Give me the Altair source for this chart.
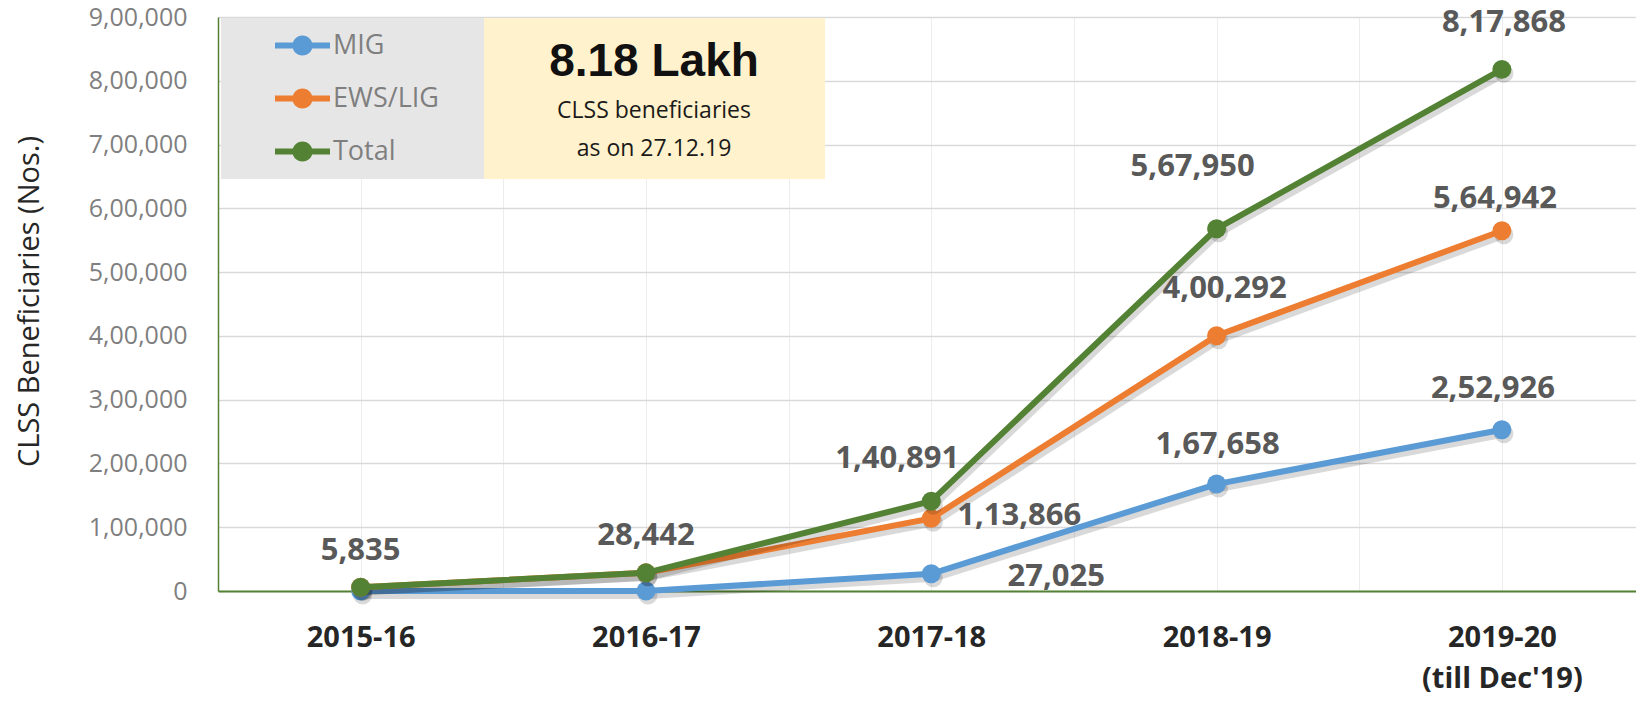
import json
import altair as alt
import pandas as pd

# ---------------- data ----------------
categories = ["2015-16", "2016-17", "2017-18", "2018-19", "2019-20"]
category_notes = ["", "", "", "", "(till Dec'19)"]
series_names = ["MIG", "EWS/LIG", "Total"]
mig = [0, 0, 27025, 167658, 252926]
ews_lig = [5835, 28442, 113866, 400292, 564942]
total = [5835, 28442, 140891, 567950, 817868]
y_ticks = [0, 100000, 200000, 300000, 400000, 500000, 600000, 700000, 800000, 900000]
y_title = "CLSS Beneficiaries (Nos.)"
headline = "8.18 Lakh"
sub_line1 = "CLSS beneficiaries"
sub_line2 = "as on 27.12.19"

# which points carry a data label (series, category index)
labelled = [("Total", 0), ("Total", 1), ("Total", 2), ("Total", 3), ("Total", 4),
            ("EWS/LIG", 2), ("EWS/LIG", 3), ("EWS/LIG", 4),
            ("MIG", 2), ("MIG", 3), ("MIG", 4)]

# ---------------- styles ----------------
series_colors = ["#5B9BD5", "#ED7D31", "#548235"]
label_offsets = {
    ("Total", 0): (0, -36), ("Total", 1): (0, -37), ("Total", 2): (-34, -42),
    ("Total", 3): (-24, -62), ("Total", 4): (2, -46),
    ("EWS/LIG", 2): (88, -2), ("EWS/LIG", 3): (8, -47), ("EWS/LIG", 4): (-7, -32),
    ("MIG", 2): (125, 3), ("MIG", 3): (1, -39), ("MIG", 4): (-9, -41),
}
FONT = "Open Sans"
HEAD_FONT = "Liberation Sans"


def indian(n):
    s = str(int(n))
    if len(s) <= 3:
        return s
    head, tail = s[:-3], s[-3:]
    parts = []
    while len(head) > 2:
        parts.insert(0, head[-2:])
        head = head[:-2]
    if head:
        parts.insert(0, head)
    return ",".join(parts) + "," + tail


rows = []
for name, vals in zip(series_names, [mig, ews_lig, total]):
    for i, v in enumerate(vals):
        rows.append({"idx": i, "category": categories[i], "series": name,
                     "value": v, "label": indian(v)})
df = pd.DataFrame(rows)

# x-axis label expression (multi-line for the last category)
parts = []
for i, (c, n) in enumerate(zip(categories, category_notes)):
    lab = json.dumps([c, n]) if n else json.dumps(c)
    parts.append(f"datum.value === {i} ? {lab} : ")
x_label_expr = "".join(parts) + "''"
x_values = [v / 2 for v in range(-1, 2 * len(categories) - 1)]

x_enc = alt.X("idx:Q",
              scale=alt.Scale(domain=[-0.5, 4.47], nice=False, zero=False),
              axis=alt.Axis(values=x_values, labelExpr=x_label_expr, title=None,
                            grid=True, gridColor="#ededed", gridWidth=1,
                            domainColor="#548235", domainWidth=2, ticks=False,
                            labelFont=FONT, labelFontSize=29, labelFontWeight="bold",
                            labelColor="#262626", labelPadding=32, labelLineHeight=41,
                            labelOverlap=False, labelFlush=False))
y_enc = alt.Y("value:Q",
              scale=alt.Scale(domain=[0, 900000], nice=False),
              axis=alt.Axis(values=y_ticks,
                            labelExpr="datum.value === 0 ? '0' : (datum.value / 100000) + ',00,000'",
                            grid=True, gridColor="#d9d9d9", gridWidth=1.5,
                            domainColor="#548235", domainWidth=1.5, ticks=False,
                            labelFont=FONT, labelFontSize=25, labelColor="#7f7f7f",
                            labelPadding=31, title=y_title, titleFont=FONT,
                            titleFontSize=29, titleFontWeight="normal",
                            titleColor="#262626", titleX=-189, titleY=284,
                            titleBaseline="middle"))

color_scale = alt.Scale(domain=series_names, range=series_colors)
legend_symbol = ("M-1.5,-0.16H1.5V0.16H-1.5Z "
                 "M0.55,0A0.55,0.55 0 1,1 -0.55,0A0.55,0.55 0 1,1 0.55,0Z")
legend = alt.Legend(orient="none", legendX=66, legendY=10, title=None,
                    symbolType=legend_symbol, symbolSize=1344, symbolStrokeWidth=0,
                    symbolOpacity=1, labelFont=FONT, labelFontSize=27,
                    labelColor="#7f7f7f", labelOffset=12, rowPadding=21, padding=0)

one = pd.DataFrame({"k": [0]})
layers = []
# background boxes and highlight text
layers.append(alt.Chart(one).mark_rect(color="#e6e6e6").encode(
    x=alt.value(3), x2=alt.value(266), y=alt.value(1), y2=alt.value(162)))
layers.append(alt.Chart(one).mark_rect(color="#fff2cc").encode(
    x=alt.value(266), x2=alt.value(607), y=alt.value(1), y2=alt.value(162)))
layers.append(alt.Chart(one).mark_text(
    text=headline, font=HEAD_FONT, fontSize=46, fontWeight="bold",
    color="#111111", align="center", baseline="middle"
).encode(x=alt.value(436), y=alt.value(45)))
layers.append(alt.Chart(one).mark_text(
    text=sub_line1, font=FONT, fontSize=23, color="#1a1a1a", align="center",
    baseline="middle").encode(x=alt.value(436), y=alt.value(94)))
layers.append(alt.Chart(one).mark_text(
    text=sub_line2, font=FONT, fontSize=23, color="#1a1a1a", align="center",
    baseline="middle").encode(x=alt.value(436), y=alt.value(132)))

base = alt.Chart(df)
for s, col in zip(series_names, series_colors):
    sd = base.transform_filter(alt.datum.series == s)
    layers.append(sd.mark_line(color="black", opacity=0.15, strokeWidth=8,
                               xOffset=2, yOffset=4).encode(x=x_enc, y=y_enc))
    layers.append(sd.mark_point(filled=True, color="black", opacity=0.15, size=360,
                                xOffset=2, yOffset=4).encode(x=x_enc, y=y_enc))
    layers.append(sd.mark_line(strokeWidth=6, color=col).encode(x=x_enc, y=y_enc))
    layers.append(sd.mark_point(filled=True, size=360, opacity=1, strokeWidth=0).encode(
        x=x_enc, y=y_enc,
        fill=alt.Fill("series:N", scale=color_scale, legend=legend)))

for (s, i) in labelled:
    dx, dy = label_offsets[(s, i)]
    layers.append(base.transform_filter(
        (alt.datum.series == s) & (alt.datum.idx == i)
    ).mark_text(font=FONT, fontSize=31, fontWeight="bold", color="#595959",
                align="center", baseline="middle", dx=dx, dy=dy).encode(
        x=x_enc, y=y_enc, text="label:N"))

chart = alt.layer(*layers).properties(
    width=1418, height=574,
    autosize=alt.AutoSizeParams(type="none"),
    padding={"left": 210, "top": 9, "right": 0, "bottom": 104},
).configure_view(stroke=None)

chart.save("out.html", embed_options={"renderer": "svg", "actions": False})
